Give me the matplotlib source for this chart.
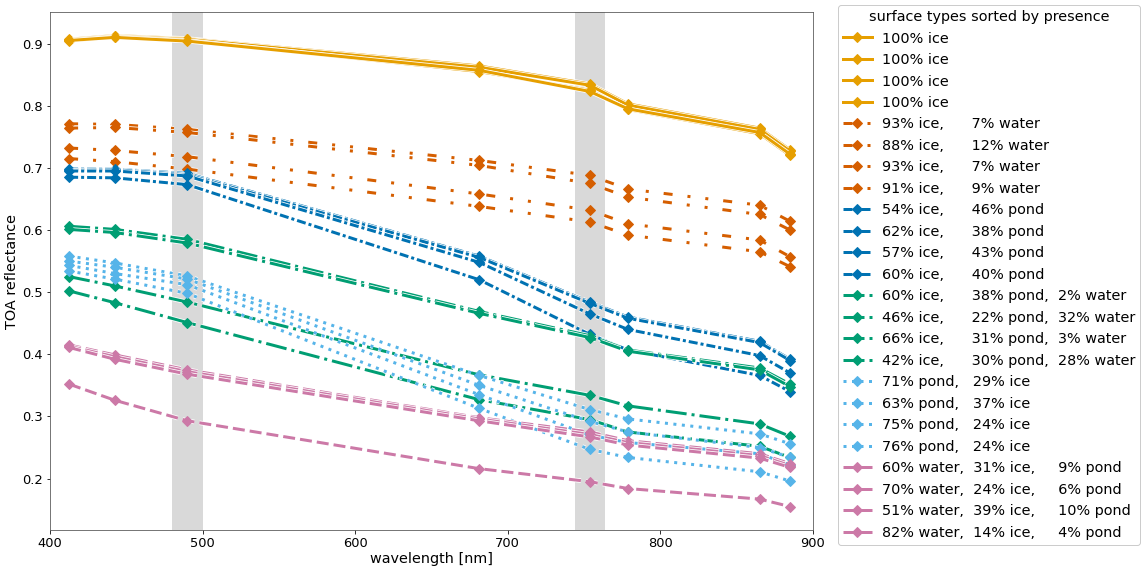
import numpy as np
import matplotlib
matplotlib.use("Agg")
import matplotlib.pyplot as plt

# OLCI band centres used in the plot
wavelength = [412.5, 442.5, 490.0, 681.25, 753.75, 778.75, 865.0, 885.0]

# 100% ice
ice_1 = [0.907, 0.913, 0.908, 0.864, 0.835, 0.803, 0.764, 0.729]
ice_2 = [0.906, 0.912, 0.907, 0.862, 0.833, 0.801, 0.762, 0.727]
ice_3 = [0.904, 0.911, 0.905, 0.855, 0.825, 0.794, 0.755, 0.720]
ice_4 = [0.905, 0.910, 0.904, 0.857, 0.823, 0.795, 0.757, 0.722]

# ice + water
icewater_1 = [0.771, 0.770, 0.762, 0.712, 0.688, 0.666, 0.640, 0.614]
icewater_2 = [0.764, 0.765, 0.757, 0.704, 0.675, 0.653, 0.625, 0.600]
icewater_3 = [0.732, 0.728, 0.718, 0.658, 0.632, 0.610, 0.584, 0.557]
icewater_4 = [0.715, 0.710, 0.698, 0.638, 0.613, 0.592, 0.565, 0.541]

# ice + pond
icepond_1 = [0.698, 0.698, 0.691, 0.558, 0.484, 0.460, 0.421, 0.392]
icepond_2 = [0.696, 0.697, 0.689, 0.556, 0.482, 0.458, 0.419, 0.390]
icepond_3 = [0.695, 0.695, 0.687, 0.548, 0.465, 0.440, 0.398, 0.370]
icepond_4 = [0.685, 0.684, 0.673, 0.520, 0.432, 0.407, 0.366, 0.340]

# ice + pond + water
mixed_1 = [0.606, 0.601, 0.585, 0.469, 0.430, 0.407, 0.378, 0.352]
mixed_2 = [0.525, 0.510, 0.484, 0.367, 0.334, 0.317, 0.288, 0.268]
mixed_3 = [0.601, 0.596, 0.579, 0.466, 0.427, 0.405, 0.375, 0.348]
mixed_4 = [0.502, 0.483, 0.451, 0.327, 0.295, 0.275, 0.252, 0.234]

# pond + ice
pond_1 = [0.558, 0.547, 0.526, 0.366, 0.311, 0.296, 0.272, 0.256]
pond_2 = [0.550, 0.540, 0.521, 0.350, 0.292, 0.275, 0.250, 0.234]
pond_3 = [0.543, 0.530, 0.512, 0.335, 0.270, 0.258, 0.240, 0.222]
pond_4 = [0.534, 0.521, 0.498, 0.313, 0.247, 0.234, 0.211, 0.196]

# water + ice + pond
water_1 = [0.415, 0.399, 0.375, 0.298, 0.275, 0.261, 0.240, 0.224]
water_2 = [0.413, 0.396, 0.372, 0.296, 0.271, 0.258, 0.237, 0.221]
water_3 = [0.411, 0.392, 0.368, 0.293, 0.267, 0.254, 0.233, 0.218]
water_4 = [0.352, 0.326, 0.293, 0.216, 0.195, 0.184, 0.167, 0.155]

ice_labels = ["100% ice", "100% ice", "100% ice", "100% ice"]
icewater_labels = ["93% ice,      7% water", "88% ice,      12% water",
                   "93% ice,      7% water", "91% ice,      9% water"]
icepond_labels = ["54% ice,      46% pond", "62% ice,      38% pond",
                  "57% ice,      43% pond", "60% ice,      40% pond"]
mixed_labels = ["60% ice,      38% pond,  2% water",
                "46% ice,      22% pond,  32% water",
                "66% ice,      31% pond,  3% water",
                "42% ice,      30% pond,  28% water"]
pond_labels = ["71% pond,   29% ice", "63% pond,   37% ice",
               "75% pond,   24% ice", "76% pond,   24% ice"]
water_labels = ["60% water,  31% ice,     9% pond",
                "70% water,  24% ice,     6% pond",
                "51% water,  39% ice,     10% pond",
                "82% water,  14% ice,     4% pond"]

gray_bands = [(480.0, 500.0), (743.75, 763.75)]

plt.rcParams["font.size"] = 14.4
plt.rcParams["lines.scale_dashes"] = False

# dash patterns given in points (not scaled with linewidth)
groups = [
    ([ice_1, ice_2, ice_3, ice_4], ice_labels, "#E69F00", "-"),
    ([icewater_1, icewater_2, icewater_3, icewater_4], icewater_labels,
     "#D55E00", (0, (9, 15, 3, 15, 3, 15))),
    ([icepond_1, icepond_2, icepond_3, icepond_4], icepond_labels,
     "#0072B2", (0, (9, 3, 3, 3))),
    ([mixed_1, mixed_2, mixed_3, mixed_4], mixed_labels, "#009E73",
     (0, (21, 5, 3, 5))),
    ([pond_1, pond_2, pond_3, pond_4], pond_labels, "#56B4E9", (0, (3, 5.5))),
    ([water_1, water_2, water_3, water_4], water_labels, "#CC79A7",
     (0, (12, 5))),
]

fig, ax = plt.subplots(1, 1, figsize=(1145 / 72, 570 / 72), dpi=72)
fig.subplots_adjust(left=0.0437, right=0.710, top=0.979, bottom=0.070)

for b0, b1 in gray_bands:
    ax.axvspan(b0, b1, color="#d9d9d9", lw=0, zorder=0)

z = 2
for series, labels, col, ls in groups:
    for var, lab in zip(series, labels):
        # thin white halo under every line
        ax.plot(wavelength, var, color="w", ls=ls, lw=4.6, zorder=z)
        ax.plot(wavelength, var, color=col, ls=ls, lw=3, marker="D", ms=7,
                label=lab, zorder=z + 0.5)
        z += 1

ax.set_xlim(400, 900)
ax.tick_params(labelsize=13)
ax.set_xlabel("wavelength [nm]", labelpad=2)
ax.set_ylabel("TOA reflectance", labelpad=3)
for sp in ax.spines.values():
    sp.set_color("#555555")

leg = fig.legend(loc="upper left", bbox_to_anchor=(838 / 1145, 1 - 5 / 570),
                 borderaxespad=0, title="surface types sorted by presence",
                 labelspacing=0.52, borderpad=0.35, handletextpad=0.7,
                 framealpha=1.0, edgecolor="#cccccc")
leg.get_title().set_fontsize(14.4)

plt.savefig("out.png", dpi=72)
plt.close("all")
